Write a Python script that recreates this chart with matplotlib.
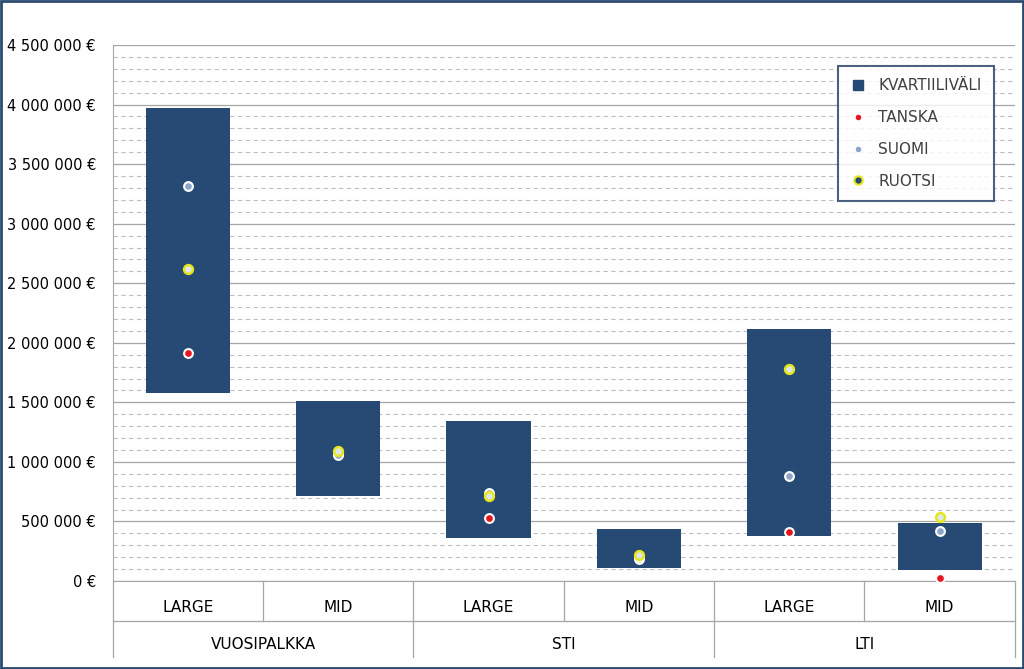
import matplotlib
matplotlib.use("Agg")
import matplotlib.pyplot as plt
from matplotlib.patches import Rectangle
from matplotlib.lines import Line2D
import numpy as np

categories = ["LARGE", "MID", "LARGE", "MID", "LARGE", "MID"]
groups = ["VUOSIPALKKA", "STI", "LTI"]
q_low = [1580000, 714000, 361000, 109000, 378000, 92000]
q_high = [3975000, 1513000, 1345000, 437000, 2118000, 487000]
tanska = [1916000, 1070000, 530000, 185000, 410000, 25000]
suomi = [3320000, 1059000, 740000, 200000, 882000, 420000]
ruotsi = [2620000, 1092000, 710000, 218000, 1780000, 538000]

fig = plt.figure(figsize=(10.24, 6.69), dpi=100)
fig.patches.append(Rectangle((0.001, 0.001), 0.998, 0.997, transform=fig.transFigure,
                             fill=False, edgecolor="#2b4a70", linewidth=2))
ax = fig.add_axes([0.110, 0.1315, 0.881, 0.8012])
x = np.arange(len(categories))
ax.set_xlim(-0.5, len(categories) - 0.5)
ax.set_ylim(0, 4500000)
for v in range(0, 4500001, 100000):
    if v % 500000 == 0:
        ax.axhline(v, color="#a6a6a6", lw=0.9, zorder=0)
    else:
        ax.axhline(v, color="#bfbfbf", lw=0.8, ls=(0, (4, 3)), zorder=0)
h = [hi - lo for hi, lo in zip(q_high, q_low)]
ax.bar(x, h, bottom=q_low, width=0.56, color="#264a73", zorder=2)
ax.scatter(x, tanska, s=40, c="#e8141c", edgecolors="white", linewidths=1.5, zorder=3)
ax.scatter(x, suomi, s=40, c="#8da5c9", edgecolors="white", linewidths=1.5, zorder=3)
ax.scatter(x, ruotsi, s=40, c="#dde6f0", edgecolors="#e6e61a", linewidths=1.8, zorder=4)

yt = list(range(0, 4500001, 500000))
ax.set_yticks(yt)
ax.set_yticklabels([(f"{v:,}".replace(",", " ") + " €") for v in yt], fontsize=10.5)
ax.set_xticks([])
ax.tick_params(axis="y", length=0, pad=12)
for s in ["top", "right"]:
    ax.spines[s].set_visible(False)
ax.spines["left"].set_color("#a6a6a6")
ax.spines["bottom"].set_color("#a6a6a6")

t = ax.get_xaxis_transform()
r1 = -40 / 536
r2 = -76 / 536
for i, c in enumerate(categories):
    ax.text(i, -26 / 536, c, transform=t, ha="center", va="center", fontsize=11)
for k in range(len(categories) + 1):
    xb = k - 0.5
    bottom = r2 if k % 2 == 0 else r1
    ax.add_line(Line2D([xb, xb], [0, bottom], transform=t, color="#a6a6a6", lw=0.9, clip_on=False))
ax.add_line(Line2D([-0.5, len(categories) - 0.5], [r1, r1], transform=t, color="#a6a6a6", lw=0.9, clip_on=False))
for g, name in enumerate(groups):
    ax.text(2 * g + 0.5, -63 / 536, name, transform=t, ha="center", va="center", fontsize=11)

handles = [
    Line2D([], [], marker="s", ls="", color="#264a73", markersize=7),
    Line2D([], [], marker="o", ls="", markerfacecolor="#e8141c", markeredgecolor="white", markersize=5),
    Line2D([], [], marker="o", ls="", markerfacecolor="#8da5c9", markeredgecolor="white", markersize=5),
    Line2D([], [], marker="o", ls="", markerfacecolor="#264a73", markeredgecolor="#e6e61a", markeredgewidth=1.5, markersize=6),
]
labels = ["KVARTIILIVÄLI", "TANSKA", "SUOMI", "RUOTSI"]
leg = ax.legend(handles, labels, loc="upper right", bbox_to_anchor=(0.985, 0.975), fontsize=11, frameon=True,
                fancybox=False, edgecolor="#1f3a5f", labelspacing=1.1, borderpad=0.8,
                handlelength=1.0)
leg.get_frame().set_linewidth(1.5)
for txt in leg.get_texts():
    txt.set_color("#404040")
fig.savefig("out.png", dpi=100)
